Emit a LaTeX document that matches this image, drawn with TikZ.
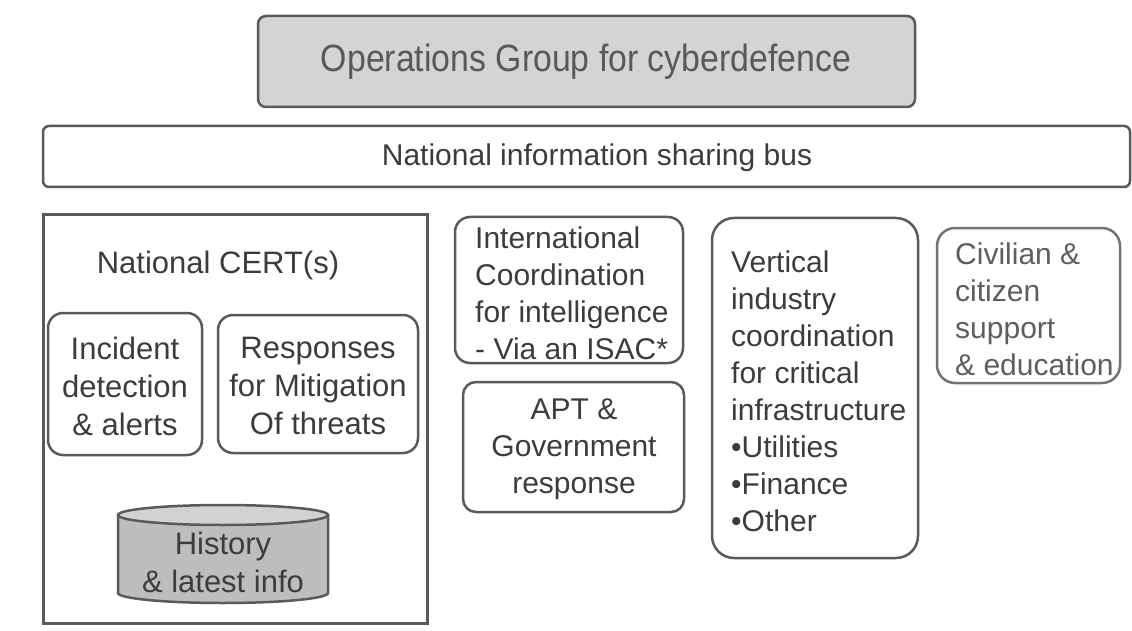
\documentclass[tikz,border=0pt]{standalone}
\usepackage{fontspec}
\setmainfont{Liberation Sans}
\definecolor{linec}{HTML}{5A5A5A}
\definecolor{textc}{HTML}{3C3C3C}
\definecolor{softc}{HTML}{5E5E5E}
\definecolor{opsfill}{HTML}{D4D4D4}
\definecolor{cylfill}{HTML}{BDBDBD}
\definecolor{cyltop}{HTML}{D2D2D2}
\begin{document}
\begin{tikzpicture}[x=1pt,y=-1pt,
  box/.style={draw=linec, line width=2.5pt, inner sep=0pt, rounded corners=#1},
  box/.default=14pt,
  txt/.style={font=\fontsize{30}{37}\selectfont, text=textc, inner sep=0pt},
]
\useasboundingbox (0,0) rectangle (1132,631);
% top
\node[box=8pt, fill=opsfill, minimum width=657pt, minimum height=91pt] (ops) at (586.5,61.5) {};
\node[txt, text=textc!85, font=\fontsize{38}{45}\selectfont] (opst) at (586,62) {\scalebox{0.89}[1]{Operations Group for cyberdefence}};
\node[box=6pt, minimum width=1087pt, minimum height=61pt] (bus) at (586.5,156.5) {};
\node[txt] (bust) at (597,158) {National information sharing bus};
% CERT
\node[draw=linec, line width=3pt, inner sep=0pt, minimum width=384pt, minimum height=408pt] (cert) at (235,419) {};
\node[txt, font=\fontsize{31}{38}\selectfont] (certt) at (218,265) {National CERT(s)};
\node[box=15pt, minimum width=154pt, minimum height=142pt] (inc) at (125,384) {};
\node[txt, font=\fontsize{31}{38}\selectfont, align=center] (inct) at (125,386) {Incident\\detection\\\& alerts};
\node[box=15pt, minimum width=200pt, minimum height=138pt] (resp) at (318,384) {};
\node[txt, font=\fontsize{31}{38}\selectfont, align=center] (respt) at (318,386) {Responses\\for Mitigation\\Of threats};
% cylinder
\fill[cylfill] (118,515) -- (118,593) arc (180:360:105pt and 10pt) -- (328,515) arc (0:180:105pt and 10pt) -- cycle;
\draw[linec, line width=2.5pt] (118,515) -- (118,593) arc (180:360:105pt and 10pt) -- (328,515);
\draw[linec, line width=2.5pt, fill=cyltop] (223,515) ellipse (105pt and 10pt);
\node[txt, font=\fontsize{31}{38}\selectfont, align=center] (hist) at (223,562) {History\\\& latest info};
% middle column
\node[box=15pt, minimum width=228pt, minimum height=146pt] (intl) at (569,290) {};
\node[txt, align=left, anchor=west] (intlt) at (475,293) {International\\Coordination\\for intelligence\\- Via an ISAC*};
\node[box=13pt, minimum width=221pt, minimum height=130pt] (apt) at (573.5,447) {};
\node[txt, align=center] (aptt) at (574,449) {APT \&\\Government\\response};
% vertical
\node[box=22pt, minimum width=206pt, minimum height=340pt] (vert) at (815,388) {};
\node[txt, align=left, anchor=west] (vertt) at (731,391) {Vertical\\industry\\coordination\\for critical\\infrastructure\\•Utilities\\•Finance\\•Other};
% civilian
\node[box=18pt, draw=linec!85, minimum width=183pt, minimum height=155pt] (civ) at (1028.5,305.5) {};
\node[txt, text=softc, align=left, anchor=west] (civt) at (955,309) {Civilian \&\\citizen\\support\\\& education};
\end{tikzpicture}
\end{document}
